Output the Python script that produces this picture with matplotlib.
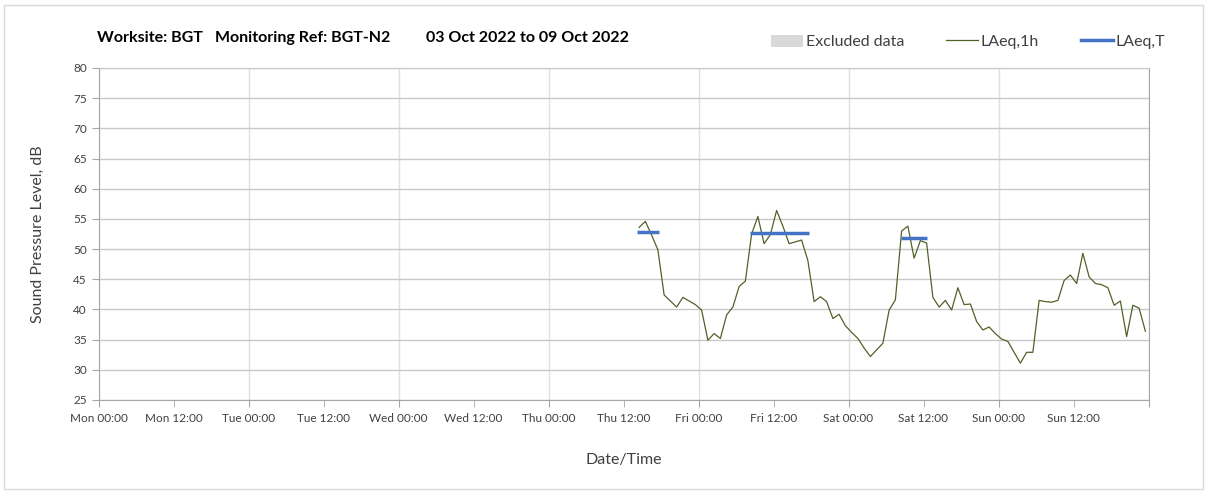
import pandas as pd
import matplotlib
matplotlib.use("Agg")
import matplotlib.pyplot as plt
import matplotlib.dates as mdates
from matplotlib.patches import Patch, Rectangle
from matplotlib.lines import Line2D

plt.rcParams['font.family'] = ['Lato', 'DejaVu Sans']

# Дані: погодинні рівні LAeq,1h (дБ), починаючи з чт 14:30
start_time = "2022-10-06 14:30"
laeq_1h = [53.6, 54.6, 52.3, 49.9, 42.4, 41.4, 40.4, 42.0, 41.4, 40.8,
           39.9, 34.9, 36.0, 35.2, 39.1, 40.4, 43.8, 44.7, 52.5, 55.4,
           50.9, 52.4, 56.4, 53.8, 50.9, 51.2, 51.5, 48.1, 41.3, 42.1,
           41.3, 38.5, 39.2, 37.3, 36.2, 35.2, 33.6, 32.2, 33.3, 34.4,
           39.9, 41.6, 53.0, 53.8, 48.5, 51.4, 51.0, 42.0, 40.4, 41.5,
           39.9, 43.6, 40.8, 40.9, 38.0, 36.6, 37.1, 36.0, 35.1, 34.7,
           32.9, 31.1, 32.9, 32.9, 41.5, 41.3, 41.2, 41.5, 44.8, 45.7,
           44.3, 49.3, 45.4, 44.3, 44.1, 43.6, 40.7, 41.4, 35.5, 40.7,
           40.2, 36.4]

# LAeq,T за періоди вимірювань
period_start = ["2022-10-06 14:12", "2022-10-07 08:12", "2022-10-08 08:24"]
period_end = ["2022-10-06 17:42", "2022-10-07 17:36", "2022-10-08 12:36"]
laeq_t = [52.9, 52.7, 51.9]

# Виключені дані (немає)
excluded_start = []
excluded_end = []

y_ticks = [25, 30, 35, 40, 45, 50, 55, 60, 65, 70, 75, 80]

times = pd.date_range(start_time, periods=len(laeq_1h), freq="h")

fig = plt.figure(figsize=(12.08, 4.93), dpi=100)
ax = fig.add_axes([98.5 / 1208, 1 - 400 / 493, 1050 / 1208, 332 / 493])

for s, e in zip(excluded_start, excluded_end):
    ax.axvspan(pd.Timestamp(s), pd.Timestamp(e), color="#d9d9d9", lw=0)

ax.plot(times, laeq_1h, color="#4f6228", lw=0.9, zorder=3)
for s, e, v in zip(period_start, period_end, laeq_t):
    ax.plot([pd.Timestamp(s), pd.Timestamp(e)], [v, v], color="#4472c4", lw=2.5,
            solid_capstyle="butt", zorder=4)

ax.set_xlim(pd.Timestamp("2022-10-03 00:00"), pd.Timestamp("2022-10-10 00:00"))
ax.set_ylim(25, 80)
ax.set_yticks(y_ticks)

ax.xaxis.set_major_locator(mdates.HourLocator(byhour=[0]))
ax.xaxis.set_minor_locator(mdates.HourLocator(byhour=[12]))
ax.xaxis.set_major_formatter(mdates.DateFormatter("%a %H:%M"))
ax.xaxis.set_minor_formatter(mdates.DateFormatter("%a %H:%M"))

ax.grid(axis="y", color="#c8c8c8", lw=1)
ax.grid(axis="x", which="major", color="#e0e0e0", lw=1)
ax.set_axisbelow(True)

for side in ["left", "bottom", "right"]:
    ax.spines[side].set_color("#a6a6a6")
ax.spines["top"].set_color("#c8c8c8")

ax.tick_params(axis="both", which="both", direction="out", length=5,
               color="#a6a6a6", labelsize=8.5, labelcolor="#404040")
ax.tick_params(axis="x", which="both", pad=4)
# останню мітку (Mon 00:00 наступного тижня) прибрати
ax.xaxis.get_major_ticks()[-1].label1.set_visible(False)

ax.set_ylabel("Sound Pressure Level, dB", fontsize=11.5, color="#404040", labelpad=20)
ax.set_xlabel("Date/Time", fontsize=11.5, color="#404040", labelpad=21)

title_y = 1 - 38 / 493
fig.text(150 / 1208, title_y, "Worksite: BGT", fontsize=11.5, fontweight="bold", va="center", ha="center")
fig.text(303 / 1208, title_y, "Monitoring Ref: BGT-N2", fontsize=11.5, fontweight="bold", va="center", ha="center")
fig.text(528 / 1208, title_y, "03 Oct 2022 to 09 Oct 2022", fontsize=11.5, fontweight="bold", va="center", ha="center")

handles = [Patch(facecolor="#d9d9d9", edgecolor="none"),
           Line2D([], [], color="#4f6228", lw=0.9),
           Line2D([], [], color="#4472c4", lw=2.5)]
fig.legend(handles, ["Excluded data", "LAeq,1h", "LAeq,T"], loc="center",
           bbox_to_anchor=(968 / 1208, 1 - 42 / 493), ncol=3, frameon=False,
           fontsize=11.5, handlelength=2.0, handleheight=0.8, columnspacing=2.6,
           handletextpad=0.2, labelcolor="#404040")

fig.patches.append(Rectangle((4 / 1208, 4 / 493), 1 - 9 / 1208, 1 - 9 / 493,
                             transform=fig.transFigure, fill=False,
                             edgecolor="#d9d9d9", lw=1))

fig.savefig("out.png", dpi=100, facecolor="white")
